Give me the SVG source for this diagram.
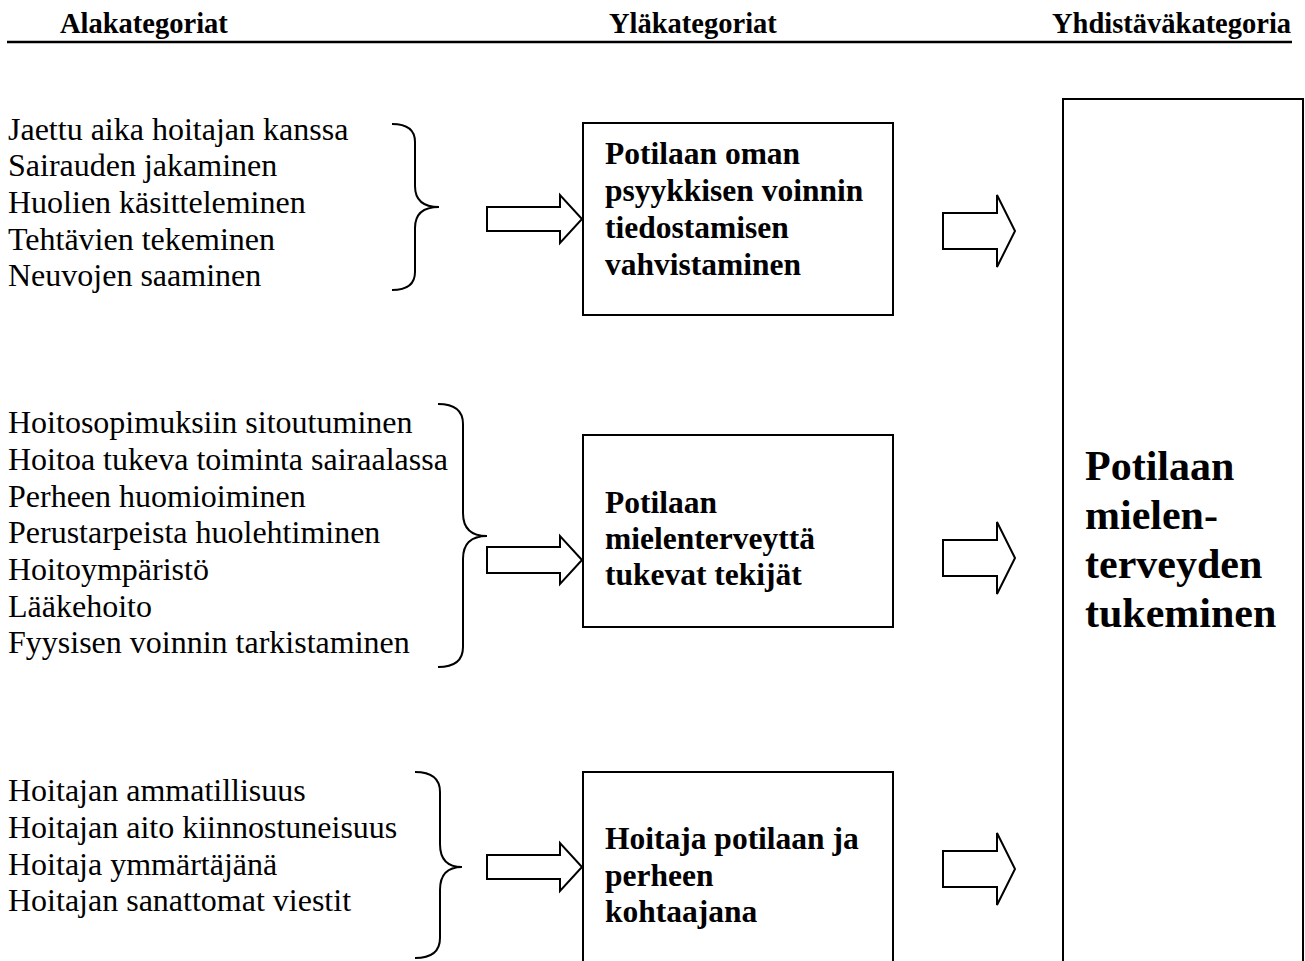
<svg xmlns="http://www.w3.org/2000/svg" width="1305" height="961" viewBox="0 0 1305 961">
  <defs>
    <style>
      .hdr { font-family: "Liberation Serif", "Times New Roman", serif; font-weight: bold; font-size: 28.5px; fill: #000; }
      .item { font-family: "Liberation Serif", "Times New Roman", serif; font-size: 32px; fill: #000; }
      .cat { font-family: "Liberation Serif", "Times New Roman", serif; font-weight: bold; font-size: 31.5px; fill: #000; }
      .main { font-family: "Liberation Serif", "Times New Roman", serif; font-weight: bold; font-size: 42px; fill: #000; }
      .box { fill: #fff; stroke: #000; stroke-width: 2; }
      .brace { fill: none; stroke: #000; stroke-width: 2; }
      .arrow { fill: #fff; stroke: #000; stroke-width: 2; stroke-linejoin: miter; }
    </style>
  </defs>
  <rect width="1305" height="961" fill="#fff"/>

  <!-- column headings -->
  <g id="headings">
    <text class="hdr" x="60" y="33">Alakategoriat</text>
    <text class="hdr" x="609" y="33">Yläkategoriat</text>
    <text class="hdr" x="1052" y="33">Yhdistäväkategoria</text>
    <line x1="7" y1="42" x2="1292" y2="42" stroke="#000" stroke-width="2.5"/>
  </g>

  <!-- subcategory lists -->
  <g id="sub1">
    <text class="item" x="8" y="139.5">Jaettu aika hoitajan kanssa</text>
    <text class="item" x="8" y="176">Sairauden jakaminen</text>
    <text class="item" x="8" y="213">Huolien käsitteleminen</text>
    <text class="item" x="8" y="249.5">Tehtävien tekeminen</text>
    <text class="item" x="8" y="286">Neuvojen saaminen</text>
  </g>
  <g id="sub2">
    <text class="item" x="8" y="433">Hoitosopimuksiin sitoutuminen</text>
    <text class="item" x="8" y="470">Hoitoa tukeva toiminta sairaalassa</text>
    <text class="item" x="8" y="506.5">Perheen huomioiminen</text>
    <text class="item" x="8" y="543">Perustarpeista huolehtiminen</text>
    <text class="item" x="8" y="580">Hoitoympäristö</text>
    <text class="item" x="8" y="616.5">Lääkehoito</text>
    <text class="item" x="8" y="653">Fyysisen voinnin tarkistaminen</text>
  </g>
  <g id="sub3">
    <text class="item" x="8" y="801">Hoitajan ammatillisuus</text>
    <text class="item" x="8" y="838">Hoitajan aito kiinnostuneisuus</text>
    <text class="item" x="8" y="874.5">Hoitaja ymmärtäjänä</text>
    <text class="item" x="8" y="911">Hoitajan sanattomat viestit</text>
  </g>

  <!-- upper category boxes -->
  <g id="cat1">
    <rect class="box" x="583" y="123" width="310" height="192"/>
    <text class="cat" x="605" y="164">Potilaan oman</text>
    <text class="cat" x="605" y="201">psyykkisen voinnin</text>
    <text class="cat" x="605" y="238">tiedostamisen</text>
    <text class="cat" x="605" y="275">vahvistaminen</text>
  </g>
  <g id="cat2">
    <rect class="box" x="583" y="435" width="310" height="192"/>
    <text class="cat" x="605" y="513">Potilaan</text>
    <text class="cat" x="605" y="549">mielenterveyttä</text>
    <text class="cat" x="605" y="585">tukevat tekijät</text>
  </g>
  <g id="cat3">
    <rect class="box" x="583" y="772" width="310" height="200"/>
    <text class="cat" x="605" y="849">Hoitaja potilaan ja</text>
    <text class="cat" x="605" y="886">perheen</text>
    <text class="cat" x="605" y="922">kohtaajana</text>
  </g>

  <!-- combining category -->
  <g id="main">
    <rect class="box" x="1063" y="99" width="240" height="880"/>
    <text class="main" x="1085" y="480">Potilaan</text>
    <text class="main" x="1085" y="529">mielen-</text>
    <text class="main" x="1085" y="578">terveyden</text>
    <text class="main" x="1085" y="627">tukeminen</text>
  </g>

  <!-- braces and block arrows -->
  <g id="connectors">
    <path class="brace" d="M392,124 Q415,124 415,142 L415,186 Q415,207 439,207 Q415,207 415,228 L415,272 Q415,290 392,290"/>
    <path class="brace" d="M438,404 Q463,404 463,424 L463,513 Q463,536 487,536 Q463,536 463,559 L463,647 Q463,667 438,667"/>
    <path class="brace" d="M415,772 Q440,772 440,792 L440,844 Q440,867 462,867 Q440,867 440,890 L440,938 Q440,958 415,958"/>

    <path class="arrow" d="M487,207 L560,207 L560,195 L582,219 L560,243 L560,231 L487,231 Z"/>
    <path class="arrow" d="M487,547 L560,547 L560,536 L582,560 L560,584 L560,573 L487,573 Z"/>
    <path class="arrow" d="M487,855 L560,855 L560,843 L582,867 L560,891 L560,879 L487,879 Z"/>

    <path class="arrow" d="M943,213 L997,213 L997,195 L1015,231 L997,267 L997,249 L943,249 Z"/>
    <path class="arrow" d="M943,540 L997,540 L997,522 L1015,558 L997,594 L997,576 L943,576 Z"/>
    <path class="arrow" d="M943,851 L997,851 L997,833 L1015,869 L997,905 L997,887 L943,887 Z"/>
  </g>
</svg>
